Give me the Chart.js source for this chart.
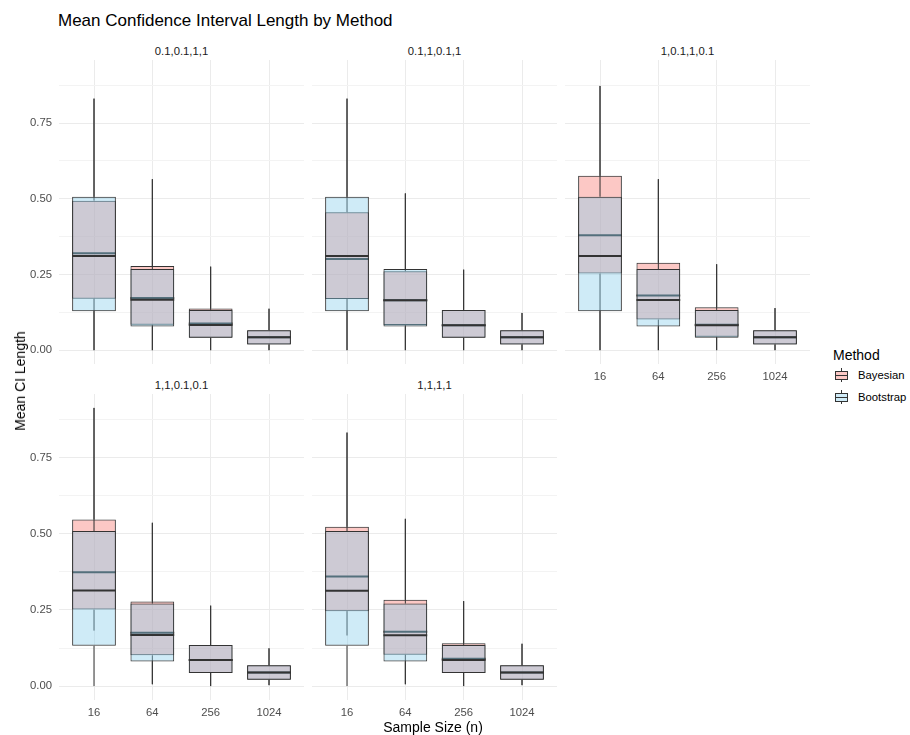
<!DOCTYPE html>
<html>
<head>
<meta charset="utf-8">
<script src="https://cdn.jsdelivr.net/npm/chart.js@4.4.1/dist/chart.umd.min.js"></script>
<style>
  html, body { margin: 0; padding: 0; background: #ffffff; }
  body { position: relative; width: 910px; height: 735px; overflow: hidden;
         font-family: "Liberation Sans", Arial, sans-serif; }
  .txt { position: absolute; white-space: nowrap; }
  .panel { position: absolute; }
  .key-part { position: absolute; box-sizing: border-box; }
</style>
</head>
<body>
<div class="txt" style="left:58px;top:11px;font-size:17px;line-height:20px;color:#000;">Mean Confidence Interval Length by Method</div>
<div id="stage"></div>
<div class="txt" style="left:433px;top:719px;font-size:14px;line-height:16px;color:#000;transform:translateX(-50%);">Sample Size (n)</div>
<div class="txt" style="left:20px;top:381px;font-size:14px;line-height:16px;color:#000;transform:translate(-50%,-50%) rotate(-90deg);">Mean CI Length</div>
<div id="legend"></div>

<script>
// Facets (parameter settings) and x categories
const facetLabels = ['0.1,0.1,1,1', '0.1,1,0.1,1', '1,0.1,1,0.1', '1,1,0.1,0.1', '1,1,1,1'];
const sampleSizes = ['16', '64', '256', '1024'];
const methods = ['Bayesian', 'Bootstrap'];

// y axis ticks: labelled majors and unlabelled minor grid lines
const yTickValues = [0, 0.25, 0.5, 0.75];
const yTickLabels = ['0.00', '0.25', '0.50', '0.75'];
const yGridValues = [0, 0.125, 0.25, 0.375, 0.5, 0.625, 0.75, 0.875];

// Box statistics per facet (rows) and sample size (columns)
const bayesLow = [
  [0, 0, 0, 0],
  [0, 0, 0, 0],
  [0, 0, 0, 0],
  [0.182, 0.006, 0, 0.003],
  [0.166, 0.006, 0, 0.003]
];
const bayesQ1 = [
  [0.170, 0.084, 0.041, 0.019],
  [0.169, 0.083, 0.041, 0.019],
  [0.253, 0.101, 0.044, 0.019],
  [0.251, 0.101, 0.043, 0.021],
  [0.246, 0.103, 0.043, 0.021]
];
const bayesMedian = [
  [0.320, 0.172, 0.088, 0.043],
  [0.301, 0.165, 0.082, 0.043],
  [0.380, 0.181, 0.084, 0.043],
  [0.374, 0.175, 0.086, 0.045],
  [0.360, 0.178, 0.090, 0.045]
];
const bayesQ3 = [
  [0.494, 0.278, 0.138, 0.066],
  [0.456, 0.261, 0.133, 0.066],
  [0.576, 0.289, 0.142, 0.066],
  [0.547, 0.278, 0.135, 0.068],
  [0.523, 0.283, 0.141, 0.068]
];
const bayesHigh = [
  [0.831, 0.565, 0.276, 0.137],
  [0.831, 0.518, 0.266, 0.123],
  [0.873, 0.565, 0.284, 0.139],
  [0.913, 0.536, 0.264, 0.124],
  [0.832, 0.549, 0.279, 0.139]
];

const bootLow = [
  [0, 0, 0, 0],
  [0, 0, 0, 0],
  [0, 0, 0, 0],
  [0, 0.006, 0, 0.003],
  [0, 0.006, 0, 0.003]
];
const bootQ1 = [
  [0.129, 0.078, 0.041, 0.019],
  [0.129, 0.078, 0.041, 0.019],
  [0.129, 0.078, 0.041, 0.019],
  [0.132, 0.081, 0.043, 0.021],
  [0.132, 0.081, 0.043, 0.021]
];
const bootMedian = [
  [0.311, 0.167, 0.083, 0.043],
  [0.311, 0.165, 0.082, 0.043],
  [0.311, 0.166, 0.082, 0.043],
  [0.314, 0.168, 0.086, 0.045],
  [0.313, 0.167, 0.086, 0.045]
];
const bootQ3 = [
  [0.507, 0.268, 0.133, 0.066],
  [0.507, 0.268, 0.133, 0.066],
  [0.507, 0.268, 0.133, 0.066],
  [0.509, 0.271, 0.135, 0.068],
  [0.509, 0.271, 0.135, 0.068]
];
const bootHigh = [
  [0.831, 0.565, 0.276, 0.137],
  [0.831, 0.518, 0.266, 0.123],
  [0.873, 0.565, 0.284, 0.139],
  [0.913, 0.536, 0.264, 0.124],
  [0.832, 0.549, 0.279, 0.139]
];

// Styling
const FONT = '"Liberation Sans", Arial, sans-serif';
const LINE = '#333333';
const FILLS = ['rgba(248,118,109,0.4)', 'rgba(135,206,235,0.4)'];
const GRID_MAJOR = '#ebebeb';
const GRID_MINOR = '#f3f3f3';

// Panel layout (facet_wrap, 3 columns)
const colLeft = [59, 312, 565];
const rowTop = [60, 394];
const rowHeight = [304, 306];
const PANEL_W = 245;
const Y_AXIS_W = 45;
const X_AXIS_H = 20;

// Shared y range: data range expanded by 5% on each side
const allHigh = Math.max(...bayesHigh.flat(), ...bootHigh.flat());
const allLow = Math.min(...bayesLow.flat(), ...bootLow.flat());
const yPad = (allHigh - allLow) * 0.05;
const Y_MIN = allLow - yPad;
const Y_MAX = allHigh + yPad;

// Whiskers are drawn right before each box dataset, medians right after it
const boxLines = {
  id: 'boxLines',
  beforeDatasetDraw(chart, args) {
    const ds = chart.data.datasets[args.index];
    const ys = chart.scales.y;
    const ctx = chart.ctx;
    ctx.save();
    ctx.strokeStyle = LINE;
    ctx.lineWidth = 1;
    ctx.beginPath();
    args.meta.data.forEach((bar, i) => {
      ctx.moveTo(bar.x, ys.getPixelForValue(ds.q3[i]));
      ctx.lineTo(bar.x, ys.getPixelForValue(ds.high[i]));
      ctx.moveTo(bar.x, ys.getPixelForValue(ds.q1[i]));
      ctx.lineTo(bar.x, ys.getPixelForValue(ds.low[i]));
    });
    ctx.stroke();
    ctx.restore();
  },
  afterDatasetDraw(chart, args) {
    const ds = chart.data.datasets[args.index];
    const ys = chart.scales.y;
    const ctx = chart.ctx;
    ctx.save();
    ctx.strokeStyle = LINE;
    ctx.lineWidth = 2;
    ctx.beginPath();
    args.meta.data.forEach((bar, i) => {
      const y = ys.getPixelForValue(ds.median[i]);
      ctx.moveTo(bar.x - bar.width / 2, y);
      ctx.lineTo(bar.x + bar.width / 2, y);
    });
    ctx.stroke();
    ctx.restore();
  }
};

function boxDataset(method, k, low, q1, median, q3, high, order) {
  return {
    label: method,
    data: sampleSizes.map((_, i) => ({ x: i, y: [q1[i], q3[i]] })),
    low, q1, median, q3, high,
    backgroundColor: FILLS[k],
    borderColor: LINE,
    borderWidth: 1,
    borderSkipped: false,
    inflateAmount: 0,
    grouped: false,
    barPercentage: 0.75,
    categoryPercentage: 1,
    order
  };
}

// axes own exactly the space given to them, no label overflow padding
function fixSize(prop, size) {
  return (s) => {
    s[prop] = size;
    s.paddingTop = 0; s.paddingBottom = 0; s.paddingLeft = 0; s.paddingRight = 0;
  };
}

const stage = document.getElementById('stage');

facetLabels.forEach((label, f) => {
  const col = f % 3;
  const row = Math.floor(f / 3);
  const showY = col === 0;
  const showX = row === 1 || f === 2;
  const left = colLeft[col] - (showY ? Y_AXIS_W : 0);
  const top = rowTop[row];
  const width = PANEL_W + (showY ? Y_AXIS_W : 0);
  const height = rowHeight[row] + (showX ? X_AXIS_H : 0);

  // strip label
  const strip = document.createElement('div');
  strip.className = 'txt';
  strip.textContent = label;
  strip.style.cssText = `left:${colLeft[col] + PANEL_W / 2}px;top:${top - 15.5}px;font-size:11.3px;line-height:13px;color:#1a1a1a;transform:translateX(-50%);`;
  stage.appendChild(strip);

  const wrap = document.createElement('div');
  wrap.className = 'panel';
  wrap.style.cssText = `left:${left}px;top:${top}px;width:${width}px;height:${height}px;`;
  const canvas = document.createElement('canvas');
  canvas.width = width;
  canvas.height = height;
  canvas.style.width = width + 'px';
  canvas.style.height = height + 'px';
  wrap.appendChild(canvas);
  stage.appendChild(wrap);

  new Chart(canvas, {
    type: 'bar',
    data: {
      datasets: [
        boxDataset(methods[0], 0, bayesLow[f], bayesQ1[f], bayesMedian[f], bayesQ3[f], bayesHigh[f], 2),
        boxDataset(methods[1], 1, bootLow[f], bootQ1[f], bootMedian[f], bootQ3[f], bootHigh[f], 1)
      ]
    },
    options: {
      responsive: false,
      animation: false,
      devicePixelRatio: 1,
      layout: { padding: 0 },
      plugins: { legend: { display: false }, tooltip: { enabled: false } },
      events: [],
      scales: {
        x: {
          type: 'linear',
          offset: false,
          min: -0.6,
          max: sampleSizes.length - 1 + 0.6,
          border: { display: false },
          grid: { color: GRID_MAJOR, lineWidth: 1, drawTicks: false, offset: false },
          afterBuildTicks: (s) => { s.ticks = sampleSizes.map((_, i) => ({ value: i })); },
          afterFit: fixSize('height', showX ? X_AXIS_H : 0),
          ticks: {
            display: showX,
            autoSkip: false,
            maxRotation: 0,
            padding: 6,
            color: '#4d4d4d',
            font: { family: FONT, size: 11.3 },
            callback: (v) => sampleSizes[v]
          }
        },
        y: {
          type: 'linear',
          min: Y_MIN,
          max: Y_MAX,
          border: { display: false },
          grid: {
            drawTicks: false,
            lineWidth: 1,
            color: (ctx) => yTickValues.includes(ctx.tick.value) ? GRID_MAJOR : GRID_MINOR
          },
          afterBuildTicks: (s) => { s.ticks = yGridValues.map((v) => ({ value: v })); },
          afterFit: fixSize('width', showY ? Y_AXIS_W : 0),
          ticks: {
            display: showY,
            autoSkip: false,
            padding: 7,
            color: '#4d4d4d',
            font: { family: FONT, size: 11.3 },
            callback: (v) => {
              const k = yTickValues.indexOf(v);
              return k >= 0 ? yTickLabels[k] : '';
            }
          }
        }
      }
    },
    plugins: [boxLines]
  });
});

// Legend: title and one boxplot key per method
const legend = document.getElementById('legend');
function addDiv(parent, cls, css, text) {
  const d = document.createElement('div');
  d.className = cls;
  d.style.cssText = css;
  if (text) d.textContent = text;
  parent.appendChild(d);
  return d;
}
addDiv(legend, 'txt', 'left:833px;top:346.5px;font-size:14px;line-height:16px;color:#000;', 'Method');
const keyCenters = [375, 397];
methods.forEach((m, k) => {
  const c = keyCenters[k];
  addDiv(legend, 'key-part', `left:841px;top:${c - 7}px;width:1px;height:3px;background:${LINE};`);
  addDiv(legend, 'key-part', `left:841px;top:${c + 4}px;width:1px;height:3px;background:${LINE};`);
  addDiv(legend, 'key-part', `left:835px;top:${c - 4.5}px;width:13px;height:9px;border:1px solid ${LINE};background:${FILLS[k]};`);
  addDiv(legend, 'key-part', `left:835px;top:${c - 0.5}px;width:13px;height:1px;background:${LINE};`);
  addDiv(legend, 'txt', `left:858px;top:${c - 7}px;font-size:11.3px;line-height:14px;color:#000;`, m);
});
</script>
</body>
</html>
